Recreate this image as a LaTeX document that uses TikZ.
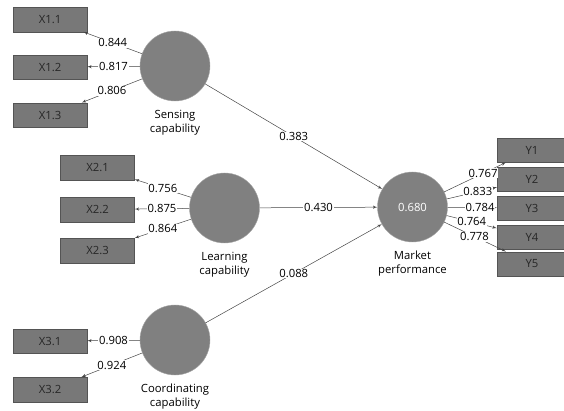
\documentclass[tikz,border=0pt]{standalone}
\usepackage{fontspec}
\setmainfont{Open Sans}
\usetikzlibrary{arrows}
\usetikzlibrary{positioning}
\definecolor{boxgray}{HTML}{787878}
\definecolor{lvgray}{HTML}{808080}
\definecolor{linegray}{HTML}{444444}
\newcommand{\lsize}{\fontsize{11.3}{13.8}\selectfont}

\begin{document}
\begin{tikzpicture}[x=1pt, y=-1pt, >=latex', font=\lsize,
    ind/.style={draw=boxgray!70!black, fill=boxgray, minimum width=74pt, minimum height=24.5pt, inner sep=0pt, text=black!85},
    lv/.style={circle, draw=lvgray!70!white, fill=lvgray, minimum size=70pt, inner sep=0pt, text=white},
    lvtext/.style={align=center, inner sep=0pt},
    path/.style={->, draw=linegray, line width=0.5pt},
    lbl/.style={fill=white, inner sep=0.8pt, pos=0.5}]
      \useasboundingbox (0,0) rectangle (564,411);

      % indicators left
      \node at (50,19.5) [ind, name=x11] {X1.1};
      \node at (50,67) [ind, name=x12] {X1.2};
      \node at (50,115) [ind, name=x13] {X1.3};

      \node at (97.5,167.5) [ind, name=x21] {X2.1};
      \node at (97.5,209.5) [ind, name=x22] {X2.2};
      \node at (97.5,250.5) [ind, name=x23] {X2.3};

      \node at (50,341) [ind, name=x31] {X3.1};
      \node at (50,389.5) [ind, name=x32] {X3.2};

      % indicators right
      \node at (532,150) [ind, minimum width=70pt, name=y1] {Y1};
      \node at (532,179) [ind, minimum width=70pt, name=y2] {Y2};
      \node at (532,208) [ind, minimum width=70pt, name=y3] {Y3};
      \node at (532,237) [ind, minimum width=70pt, name=y4] {Y4};
      \node at (532,264) [ind, minimum width=70pt, name=y5] {Y5};

      % latent variables
      \node at (175,66) [lv, name=sens] {};
      \node [below=9pt of sens, lvtext, name=sensl] {Sensing\\capability};
      \node at (224.5,208) [lv, name=learn] {};
      \node [below=9pt of learn, lvtext, name=learnl] {Learning\\capability};
      \node at (175,340) [lv, name=coord] {};
      \node [below=9pt of coord, lvtext, name=coordl] {Coordinating\\capability};
      \node at (412.5,207) [lv, name=mkt] {0.680};
      \node [below=9pt of mkt, lvtext, name=mktl] {Market\\performance};

      % outer loadings
      \draw [path] (sens) -- (x11) node [lbl] {0.844};
      \draw [path] (sens) -- (x12) node [lbl] {0.817};
      \draw [path] (sens) -- (x13) node [lbl] {0.806};
      \draw [path] (learn) -- (x21) node [lbl] {0.756};
      \draw [path] (learn) -- (x22) node [lbl] {0.875};
      \draw [path] (learn) -- (x23) node [lbl] {0.864};
      \draw [path] (coord) -- (x31) node [lbl] {0.908};
      \draw [path] (coord) -- (x32) node [lbl] {0.924};
      \draw [path] (mkt) -- (y1) node [lbl, pos=0.63] {0.767};
      \draw [path] (mkt) -- (y2) node [lbl, pos=0.62] {0.833};
      \draw [path] (mkt) -- (y3) node [lbl, pos=0.66] {0.784};
      \draw [path] (mkt) -- (y4) node [lbl, pos=0.5] {0.764};
      \draw [path] (mkt) -- (y5) node [lbl, pos=0.49] {0.778};

      % path coefficients
      \draw [path] (sens) -- (mkt) node [lbl] {0.383};
      \draw [path] (learn) -- (mkt) node [lbl] {0.430};
      \draw [path] (coord) -- (mkt) node [lbl] {0.088};
\end{tikzpicture}
\end{document}
